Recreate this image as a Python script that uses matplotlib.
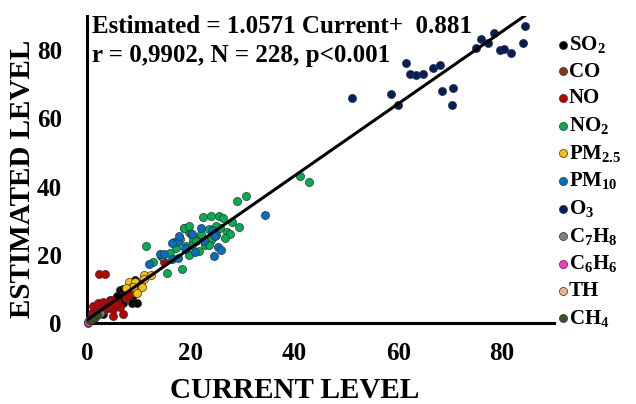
import numpy as np
import matplotlib
matplotlib.use("Agg")
import matplotlib.pyplot as plt

# values
so2_x = [0.8, 1.2, 1.6, 2.1, 2.6, 3.1, 3.6, 4.2, 4.8, 5.3, 5.7, 6.2, 6.4, 6.9, 7.3,
         7.8, 8.0, 8.6, 8.6, 9.3, 9.7, 10.3, 4.4, 3.0, 7.0, 5.7]
so2_y = [1.0, 1.8, 2.4, 3.0, 3.2, 4.1, 4.5, 5.2, 5.9, 6.5, 5.8, 7.2, 9.7, 5.8, 9.2,
         8.1, 8.7, 7.7, 5.8, 12.6, 6.0, 11.5, 6.8, 2.5, 10.0, 8.0]
co_x = [0.5, 0.9, 1.3, 1.8]
co_y = [0.8, 1.2, 1.5, 2.2]
no_x = [2.3, 3.4, 14.9, 0.9, 1.2, 1.9, 2.2, 2.8, 3.1, 3.6, 4.0, 4.1, 4.8, 5.1, 5.1,
        5.8, 6.4, 7.0, 7.6, 8.0, 2.6, 3.0, 4.5, 5.5, 1.5]
no_y = [14.3, 14.3, 17.8, 2.8, 5.0, 3.3, 5.8, 4.0, 6.3, 4.4, 4.3, 5.8, 6.8, 4.0, 2.1,
        6.3, 4.8, 2.6, 7.2, 8.2, 3.0, 3.5, 5.2, 5.5, 2.0]
no2_x = [41.0, 42.7, 29.0, 30.6, 22.4, 23.9, 25.5, 26.3, 29.2, 26.9, 18.7, 19.7, 20.5,
         21.7, 23.5, 25.7, 23.9, 22.8, 16.8, 17.2, 11.3, 12.8, 15.4, 18.4, 20.2, 23.6,
         19.6, 21.0, 24.5, 27.5, 18.6, 19.6, 14.3, 21.5, 22.0, 24.8, 20.0, 18.0, 16.0,
         14.5, 26.5, 28.0, 19.0]
no2_y = [43.2, 41.3, 35.7, 37.2, 31.1, 31.3, 31.5, 30.7, 28.2, 26.7, 27.8, 26.8, 24.4,
         25.2, 27.6, 27.9, 24.2, 22.9, 23.6, 22.0, 22.7, 18.0, 14.6, 15.9, 22.9, 22.9,
         20.0, 24.0, 26.5, 26.0, 27.8, 28.5, 19.7, 21.0, 26.0, 28.5, 26.0, 24.5, 20.5,
         19.5, 25.0, 29.5, 22.5]
pm25_x = [10.9, 12.4, 8.0, 9.3, 10.5, 9.4, 8.6, 11.0, 8.9, 10.6, 9.6, 7.5]
pm25_y = [14.1, 14.1, 12.1, 11.9, 11.2, 8.9, 10.6, 12.8, 10.7, 10.7, 8.7, 10.2]
pm10_x = [34.4, 21.9, 24.0, 20.3, 24.8, 17.6, 16.3, 25.3, 25.9, 19.0, 20.8, 24.4,
          14.1, 16.4, 12.0, 17.8, 24.7, 18.9, 17.6, 14.9, 22.5]
pm10_y = [31.8, 27.9, 27.4, 26.2, 25.8, 23.6, 23.4, 22.4, 21.5, 21.7, 20.9, 19.5,
          20.3, 18.9, 17.2, 25.6, 25.4, 21.9, 19.0, 20.2, 24.0]
o3_x = [51.1, 58.6, 60.0, 61.4, 62.2, 63.5, 64.8, 66.6, 68.1, 68.5, 70.5, 70.3,
        75.0, 76.0, 77.3, 78.4, 79.6, 80.4, 81.7, 84.4, 84.1]
o3_y = [66.1, 67.1, 63.9, 76.2, 72.9, 72.6, 72.9, 74.8, 75.7, 68.1, 69.0, 63.9,
        80.5, 83.3, 82.2, 85.0, 80.1, 80.3, 79.1, 87.0, 82.2]
c7h8_x = [0.3, 0.6, 1.0, 1.4, 1.9, 2.5]
c7h8_y = [0.5, 1.0, 1.4, 1.8, 2.2, 3.0]
c6h6_x = [0.1, 0.2]
c6h6_y = [0.0, 0.2]
th_x = [0.4, 0.8]
th_y = [0.9, 1.3]
ch4_x = [0.5, 1.0, 1.5, 2.0]
ch4_y = [0.8, 1.3, 1.9, 2.5]

slope = 1.0571
intercept = 0.881
ticks = [0, 20, 40, 60, 80]

series = [
    ("SO$_2$", so2_x, so2_y, "#000000"),
    ("CO", co_x, co_y, "#843c0c"),
    ("NO", no_x, no_y, "#c00000"),
    ("NO$_2$", no2_x, no2_y, "#00b050"),
    ("PM$_{2.5}$", pm25_x, pm25_y, "#ffc000"),
    ("PM$_{10}$", pm10_x, pm10_y, "#0070c0"),
    ("O$_3$", o3_x, o3_y, "#002060"),
    ("C$_7$H$_8$", c7h8_x, c7h8_y, "#808080"),
    ("C$_6$H$_6$", c6h6_x, c6h6_y, "#ff33cc"),
    ("TH", th_x, th_y, "#f4b183"),
    ("CH$_4$", ch4_x, ch4_y, "#375623"),
]

plt.rcParams["font.family"] = ["Liberation Serif", "DejaVu Serif"]
plt.rcParams["font.weight"] = "bold"
plt.rcParams["mathtext.fontset"] = "custom"
plt.rcParams["mathtext.rm"] = "Liberation Serif:bold"
plt.rcParams["mathtext.it"] = "Liberation Serif:bold"
plt.rcParams["mathtext.bf"] = "Liberation Serif:bold"

fig = plt.figure(figsize=(6.36, 4.04), dpi=100)
ax = fig.add_axes([87 / 636, 81 / 404, 467 / 636, 307 / 404])

for label, xs, ys, col in series:
    ax.scatter(xs, ys, s=34, color=col, edgecolors="#333333", linewidths=0.5,
               label=label, clip_on=False, zorder=3)

# regression line
all_x = np.concatenate([s[1] for s in series])
lx = np.array([0, all_x.max()])
ax.plot(lx, slope * lx + intercept, color="black", linewidth=2.2, zorder=4)

ax.set_xlim(0, 90)
ax.set_ylim(0, 90)
ax.set_xticks(ticks)
ax.set_yticks(ticks)
ax.tick_params(length=0, labelsize=18)
ax.tick_params(axis="x", pad=14)
ax.tick_params(axis="y", pad=18)
for lab in ax.get_xticklabels() + ax.get_yticklabels():
    lab.set_fontweight("bold")

for side in ["top", "right"]:
    ax.spines[side].set_visible(False)
for side in ["left", "bottom"]:
    ax.spines[side].set_linewidth(2.2)

ax.set_xlabel("CURRENT LEVEL", fontsize=21, fontweight="bold")
ax.set_ylabel("ESTIMATED LEVEL", fontsize=21, fontweight="bold")
ax.xaxis.set_label_coords(0.445, -0.175)
ax.yaxis.set_label_coords(-0.11, 0.47)

fig.text(92 / 636, 1 - 33 / 404, "Estimated = 1.0571 Current+  0.881",
         fontsize=18, fontweight="bold", va="baseline")
fig.text(92 / 636, 1 - 62 / 404, "r = 0,9902, N = 228, p<0.001",
         fontsize=18, fontweight="bold", va="baseline")

leg = ax.legend(loc="upper left", bbox_to_anchor=(553 / 636, 1 - 34 / 404),
                bbox_transform=fig.transFigure, frameon=False, fontsize=15,
                handletextpad=-0.25, labelspacing=0.32, borderpad=0,
                borderaxespad=0, markerscale=1.0, handlelength=1.0)

fig.savefig("out.png", dpi=100)
